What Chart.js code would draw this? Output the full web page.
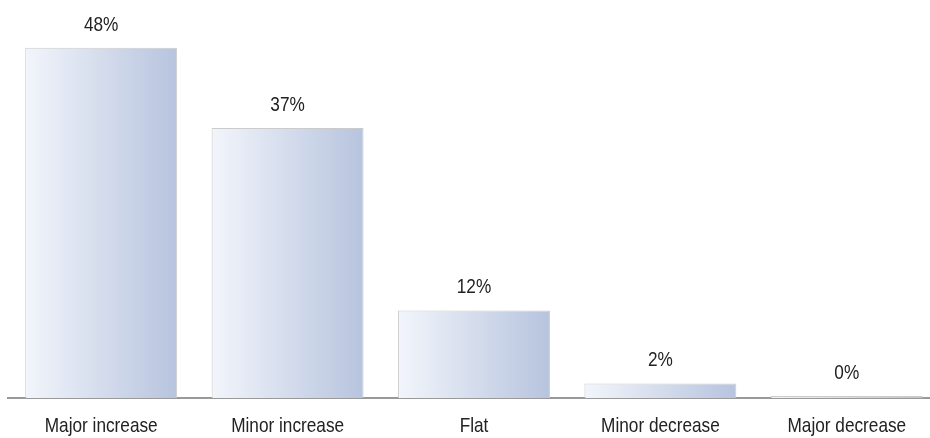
<!DOCTYPE html>
<html>
<head>
    <title>Change overview</title>
    <script src="https://cdn.jsdelivr.net/npm/chart.js@4.4.1/dist/chart.umd.min.js"></script>
    <style>
        html, body { margin: 0; padding: 0; overflow: hidden; background: #fff; }
    </style>
</head>

<body>
<canvas id="myChart" width="940" height="438"></canvas>

<script>
var categories = ['Major increase', 'Minor increase', 'Flat', 'Minor decrease', 'Major decrease'];
var shares = [48, 37, 12, 2, 0];
var valueLabels = ['48%', '37%', '12%', '2%', '0%'];

var BAR_PCT = 0.815;
var TEXT_FONT = '21px "Liberation Sans", Arial, sans-serif';
var TEXT_SQUEEZE = 0.82; // narrow face look

// light-to-dark horizontal fill across each bar
function barFill(context) {
    var chart = context.chart;
    var x = chart.scales.x;
    if (!chart.chartArea || !x) return '#d3dbec';
    var center = x.getPixelForValue(context.dataIndex);
    var half = (x.width / categories.length) * BAR_PCT / 2;
    var g = chart.ctx.createLinearGradient(center - half, 0, center + half, 0);
    g.addColorStop(0, '#f2f5fb');
    g.addColorStop(1, '#b7c4de');
    return g;
}

function squeezedText(ctx, text, x, y) {
    ctx.save();
    ctx.translate(x, y);
    ctx.scale(TEXT_SQUEEZE, 1);
    ctx.fillText(text, 0, 0);
    ctx.restore();
}

// value labels above bars and category names under the axis
var textPlugin = {
    id: 'condensedText',
    afterDatasetsDraw: function(chart) {
        var ctx = chart.ctx;
        var meta = chart.getDatasetMeta(0);
        var xScale = chart.scales.x;
        ctx.save();
        ctx.font = TEXT_FONT;
        ctx.fillStyle = '#222222';
        ctx.textAlign = 'center';
        ctx.textBaseline = 'alphabetic';
        meta.data.forEach(function(bar, i) {
            squeezedText(ctx, valueLabels[i], bar.x, bar.y - 17);
        });
        categories.forEach(function(name, i) {
            squeezedText(ctx, name, xScale.getPixelForValue(i), chart.chartArea.bottom + 34);
        });
        ctx.restore();
    }
};

var ctx = document.getElementById('myChart').getContext('2d');
var myChart = new Chart(ctx, {
    type: 'bar',
    data: {
        labels: categories,
        datasets: [{
            data: shares,
            backgroundColor: barFill,
            borderColor: '#cbcbcb',
            borderWidth: 1,
            borderSkipped: 'bottom',
            barPercentage: BAR_PCT,
            categoryPercentage: 1,
            minBarLength: 2
        }]
    },
    options: {
        responsive: false,
        animation: false,
        layout: { padding: { left: 8, right: 0, top: 4, bottom: 40 } },
        plugins: {
            legend: { display: false },
            tooltip: { enabled: false }
        },
        scales: {
            x: {
                grid: { display: false, drawTicks: false },
                border: { display: true, color: '#999999', width: 2 },
                ticks: { display: false }
            },
            y: {
                display: false,
                min: 0,
                max: 54
            }
        }
    },
    plugins: [textPlugin]
});
</script>

</body>
</html>
